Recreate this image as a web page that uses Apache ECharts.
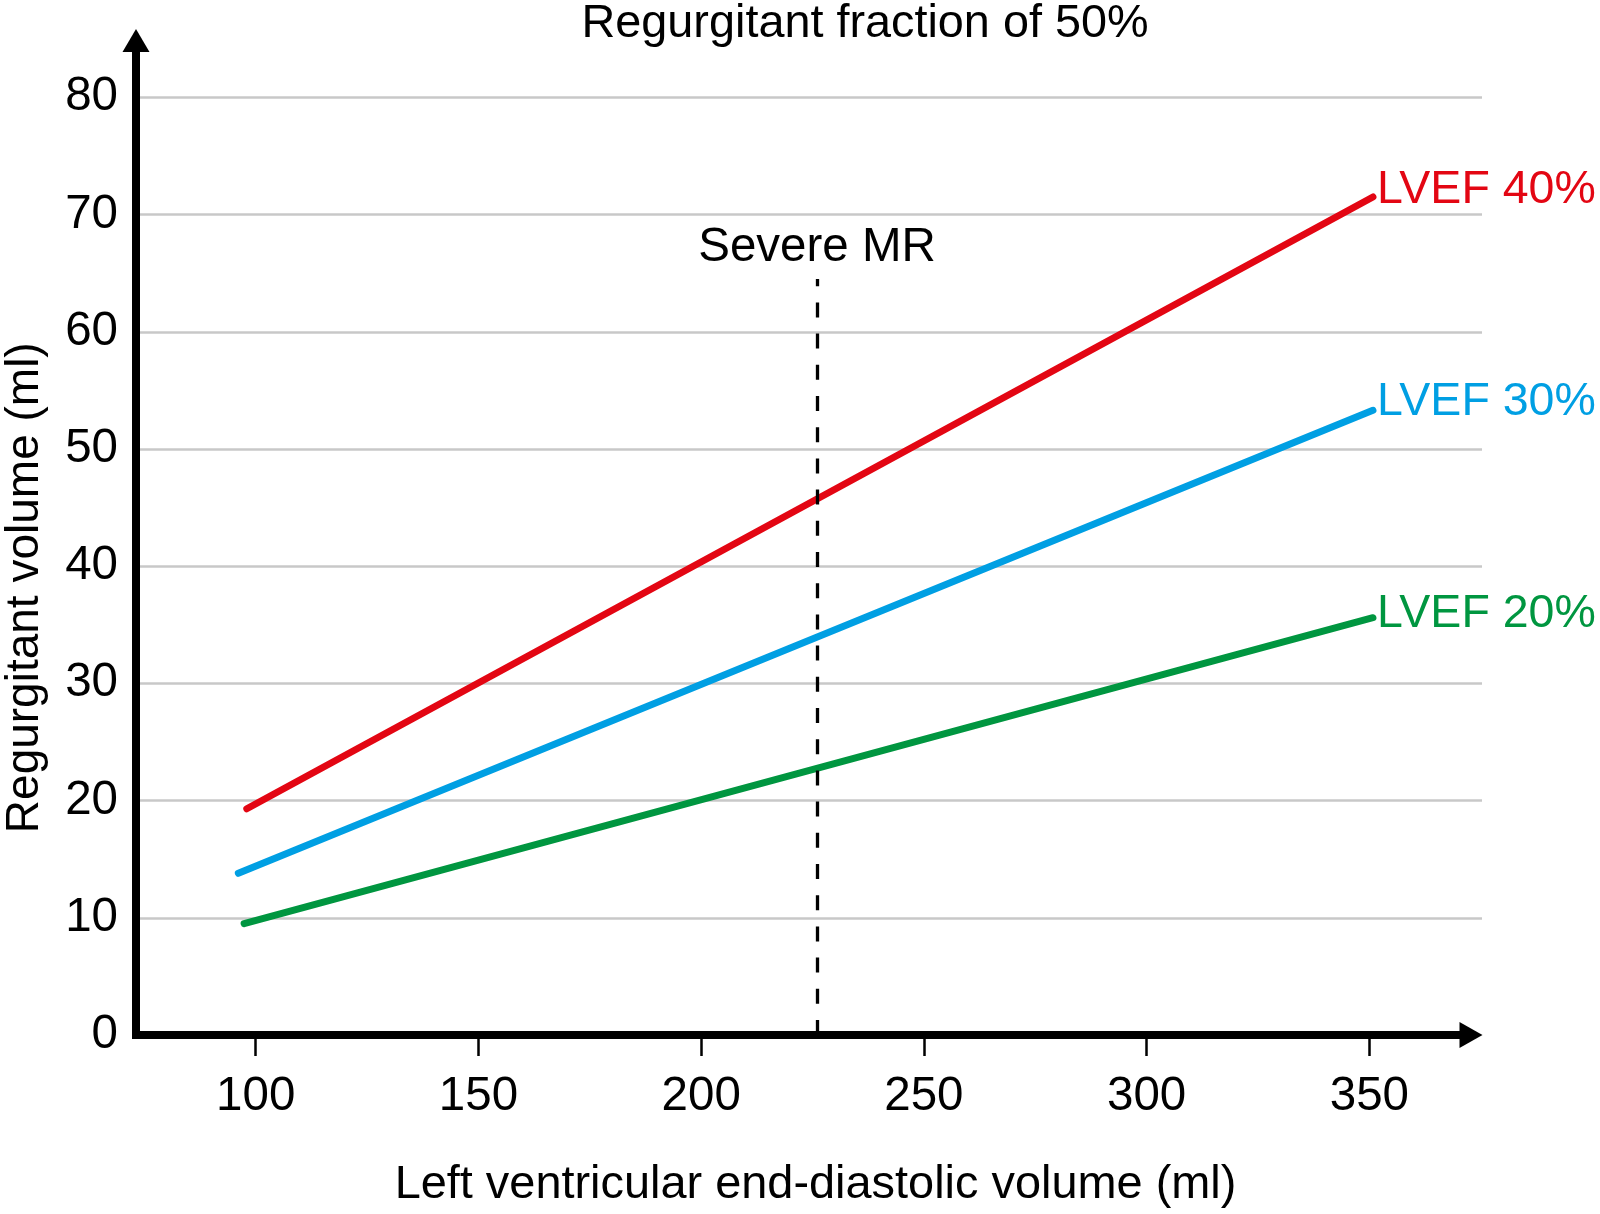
<!DOCTYPE html>
<html>
<head>
<meta charset="utf-8">
<title>Regurgitant fraction of 50%</title>
<script src="https://cdn.jsdelivr.net/npm/echarts@6/dist/echarts.min.js"></script>
<style>
    html, body { margin: 0; padding: 0; background: #fff; }
    #chart { width: 1600px; height: 1214px; }
</style>
</head>
<body>
<div id="chart"></div>
<script>
// values
const xTicks = [100, 150, 200, 250, 300, 350];
const lvef40 = [[98.0, 19.3], [350.8, 71.5]];
const lvef30 = [[96.1, 13.8], [350.8, 53.3]];
const lvef20 = [[97.4, 9.5], [350.8, 35.6]];
const seriesNames = ['LVEF 40%', 'LVEF 30%', 'LVEF 20%'];
const severeMrX = 226;
const severeMrTop = 64.5;

const FONT = '"Liberation Sans", Arial, Helvetica, sans-serif';
const FS = 47.5;
const colors = ['#e30613', '#009fe3', '#009640'];

const chart = echarts.init(document.getElementById('chart'));

function lineSeries(name, data, color, offsetY) {
    return {
        name: name,
        type: 'line',
        data: data,
        symbol: 'none',
        showSymbol: false,
        lineStyle: { color: color, width: 7, cap: 'round' },
        itemStyle: { color: color },
        endLabel: {
            show: true,
            formatter: '{a}',
            color: color,
            fontSize: 46.5,
            fontFamily: FONT,
            distance: 4,
            offset: [0, offsetY]
        },
        z: 3
    };
}

const baseGrid = { left: 136, top: 40.5, bottom: 179, outerBoundsMode: 'none', containLabel: false };

chart.setOption({
    animation: false,
    textStyle: { fontFamily: FONT },
    title: {
        text: 'Regurgitant fraction of 50%',
        left: 581.5,
        top: 1,
        padding: 0,
        textStyle: { fontSize: 46.8, fontWeight: 'normal', color: '#000', fontFamily: FONT }
    },
    grid: [
        { ...baseGrid, right: 118 },
        // second grid only carries the x axis line with its arrow
        { ...baseGrid, right: 129 }
    ],
    xAxis: [{
        type: 'value',
        gridIndex: 0,
        min: 73.13,
        max: 375.28,
        name: 'Left ventricular end-diastolic volume (ml)',
        nameLocation: 'middle',
        nameGap: 127,
        nameTextStyle: { fontSize: 46.9, color: '#000', fontFamily: FONT, padding: [0, 0, 0, 13] },
        axisLine: { show: false },
        axisTick: {
            show: true,
            customValues: xTicks,
            length: 21,
            lineStyle: { color: '#000', width: 2.5 }
        },
        axisLabel: { customValues: xTicks, margin: 37.5, fontSize: FS, color: '#000', fontFamily: FONT },
        splitLine: { show: false }
    }, {
        type: 'value',
        gridIndex: 1,
        min: 0,
        max: 1,
        axisLine: {
            show: true,
            onZero: false,
            symbol: ['none', 'triangle'],
            symbolSize: [26, 23],
            lineStyle: { color: '#000', width: 8 }
        },
        axisTick: { show: false },
        axisLabel: { show: false },
        splitLine: { show: false }
    }],
    yAxis: [{
        type: 'value',
        gridIndex: 0,
        min: 0,
        max: 84.85,
        interval: 10,
        name: 'Regurgitant volume (ml)',
        nameLocation: 'middle',
        nameRotate: 90,
        nameGap: 88,
        nameTextStyle: { fontSize: 46, color: '#000', fontFamily: FONT, padding: [0, 100, 0, 0] },
        axisLine: {
            show: true,
            onZero: false,
            symbol: ['none', 'triangle'],
            symbolSize: [27, 23],
            lineStyle: { color: '#000', width: 8, cap: 'square' }
        },
        axisTick: { show: false },
        axisLabel: { margin: 18, fontSize: FS, color: '#000', fontFamily: FONT, showMaxLabel: false },
        splitLine: {
            show: true,
            showMinLine: false,
            showMaxLine: false,
            lineStyle: { color: '#c8c8c8', width: 2.5 }
        }
    }, {
        type: 'value',
        gridIndex: 1,
        min: 0,
        max: 1,
        show: false
    }],
    series: [
        lineSeries(seriesNames[0], lvef40, colors[0], -7),
        lineSeries(seriesNames[1], lvef30, colors[1], -8),
        lineSeries(seriesNames[2], lvef20, colors[2], -4),
        {
            name: 'Severe MR',
            type: 'line',
            data: [],
            markLine: {
                silent: true,
                symbol: ['none', 'none'],
                lineStyle: { color: '#000', width: 3.3, type: [15, 16.2] },
                label: {
                    show: true,
                    position: 'end',
                    formatter: 'Severe MR',
                    fontSize: FS,
                    color: '#000',
                    fontFamily: FONT,
                    distance: 7
                },
                emphasis: { disabled: true },
                data: [[{ coord: [severeMrX, 0] }, { coord: [severeMrX, severeMrTop] }]]
            }
        }
    ]
});
</script>
</body>
</html>
